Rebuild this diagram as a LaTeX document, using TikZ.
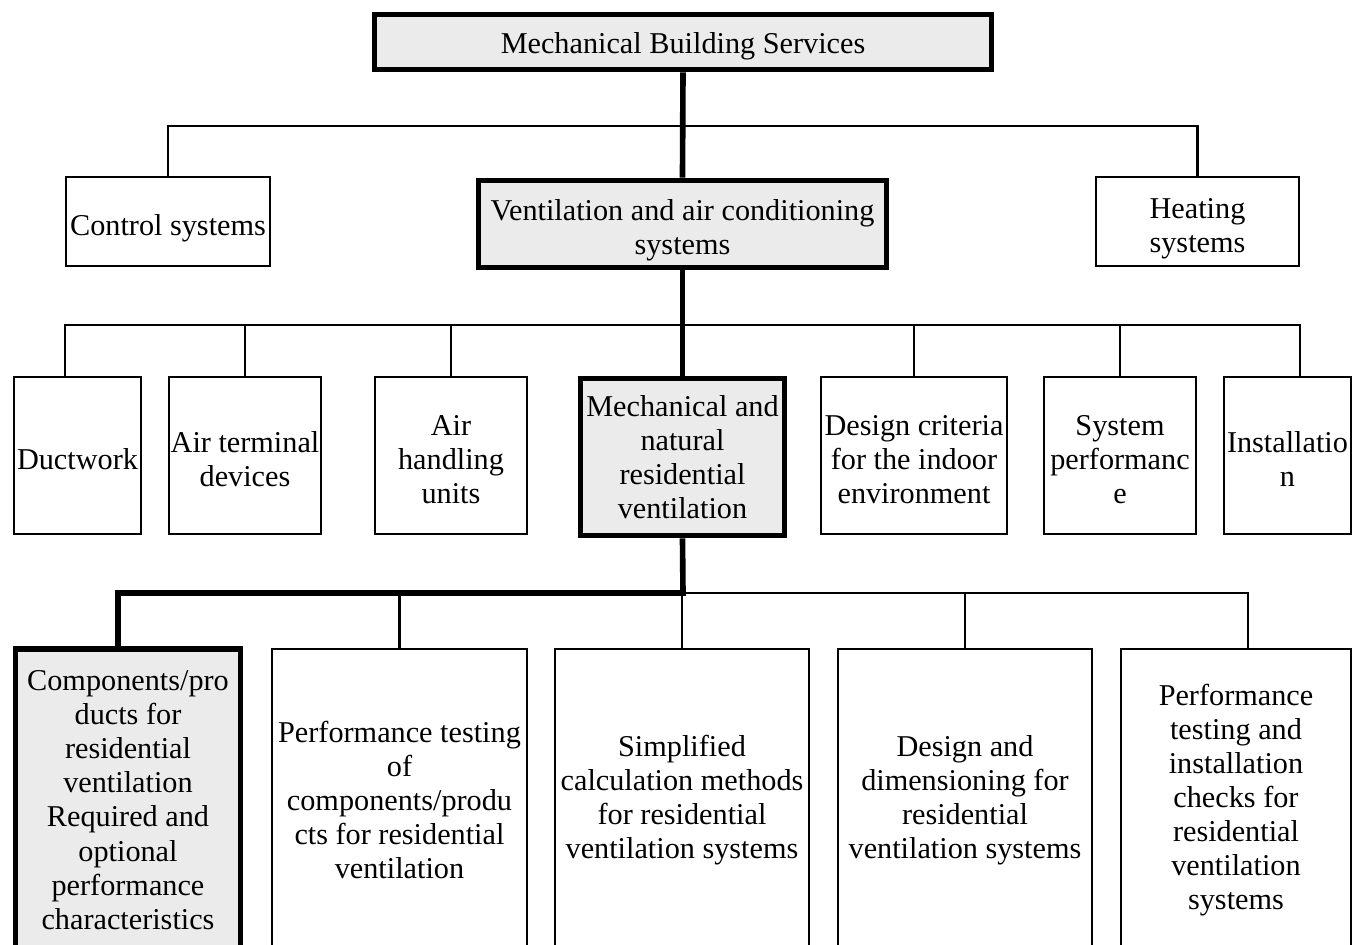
\documentclass[tikz,border=0pt]{standalone}
\usepackage{fontspec}
\setmainfont{Liberation Serif}
\definecolor{boxgray}{HTML}{EBEBEB}
\newcommand{\tallfirst}{\rule{0pt}{9.6pt}}
\newcommand{\midfirst}{\rule{0pt}{8.2pt}}
\tikzset{
  box/.style={draw,line width=0.6pt,align=center,inner sep=0pt,font=\fontsize{8.6}{9.7}\selectfont},
  mainbox/.style={box,line width=1.6pt,fill=boxgray},
  thinlink/.style={line width=0.6pt},
  thicklink/.style={line width=1.6pt},
}
\begin{document}
\begin{tikzpicture}[x=0.01cm,y=-0.01cm]
\clip (0,0) rectangle (1353,945);

% level 1 and 2
\node[mainbox,minimum width=6.17cm,minimum height=0.55cm] (mbs) at (683,42) {\midfirst Mechanical Building Services};
\node[box,minimum width=2.04cm,minimum height=0.89cm] (ctrl) at (168,221.5) {\tallfirst Control systems};
\node[mainbox,minimum width=4.08cm,minimum height=0.87cm] (vac) at (682.5,224) {\tallfirst Ventilation and air conditioning\\systems};
\node[box,minimum width=2.03cm,minimum height=0.89cm] (heat) at (1197.5,221.5) {\tallfirst Heating\\systems};

\draw[thicklink] (mbs.south) -- (vac.north);
\coordinate (busa) at (683,126);
\draw[thinlink] (ctrl.north) |- (busa) -| (heat.north);

% level 3
\begin{scope}[every node/.append style={minimum height=1.57cm}]
\node[box,minimum width=1.27cm] (duct) at (77.5,455.5) {\midfirst Ductwork};
\node[box,minimum width=1.52cm] (atd) at (245,455.5) {\midfirst Air terminal\\devices};
\node[box,minimum width=1.52cm] (ahu) at (451,455.5) {\midfirst Air\\handling\\units};
\node[mainbox,minimum width=2.04cm] (mnrv) at (682.5,457) {Mechanical and\\natural\\residential\\ventilation};
\node[box,minimum width=1.86cm] (dcie) at (914,455.5) {\midfirst Design criteria\\for the indoor\\environment};
\node[box,minimum width=1.52cm] (sysp) at (1120,455.5) {\midfirst System\\performanc\\e};
\node[box,minimum width=1.27cm] (inst) at (1287.5,455.5) {\midfirst Installatio\\n};
\end{scope}

\draw[thicklink] (vac.south) -- (mnrv.north);
\coordinate (busbw) at (65,325);
\coordinate (busbe) at (1300,325);
\draw[thinlink] (busbw |- duct.north) -- (busbw) -- (busbe) -- (busbe |- inst.north);
\foreach \n in {atd,ahu,dcie,sysp}
  \draw[thinlink] (\n.north) -- (\n.north |- busbw);

% level 4
\begin{scope}[every node/.append style={minimum height=3.02cm}]
\node[mainbox,minimum width=2.25cm] (comp) at (128,800) {Components/pro\\ducts for\\residential\\ventilation\\Required and\\optional\\performance\\characteristics};
\node[box,minimum width=2.55cm] (ptest) at (399.5,800) {Performance testing\\of\\components/produ\\cts for residential\\ventilation};
\node[box,minimum width=2.54cm] (scalc) at (682,800) {Simplified\\calculation methods\\for residential\\ventilation systems};
\node[box,minimum width=2.54cm] (ddim) at (965,800) {Design and\\dimensioning for\\residential\\ventilation systems};
\node[box,minimum width=2.30cm] (pichk) at (1236,800) {Performance\\testing and\\installation\\checks for\\residential\\ventilation\\systems};
\end{scope}

\coordinate (busc) at (683,593);
\coordinate (buscw) at (118,593);
\coordinate (busce) at (1248,593);
\draw[thicklink] (mnrv.south) -- (busc) -- (buscw) -- (buscw |- comp.north);
\draw[thinlink] (busc) -- (busce) -- (busce |- pichk.north);
\foreach \n in {ptest,scalc,ddim}
  \draw[thinlink] (\n.north) -- (\n.north |- busc);

\end{tikzpicture}
\end{document}
